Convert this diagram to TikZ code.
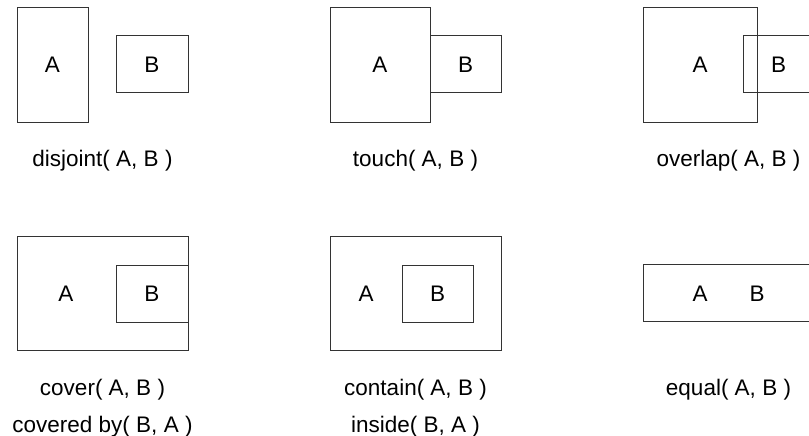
\documentclass[tikz,border=0pt]{standalone}
\usepackage{fontspec}
\setmainfont{Liberation Sans}
\begin{document}
\begin{tikzpicture}[x=1pt,y=-1pt,
  box/.style={draw=black!80,line width=1pt},
  lab/.style={font=\fontsize{22.5}{25}\selectfont,inner sep=0pt,anchor=base},
  captext/.style={font=\fontsize{22.5}{25}\selectfont,inner sep=0pt,anchor=base}]
\useasboundingbox (0,0) rectangle (809,436);
\clip (0,0) rectangle (809,436);
% disjoint
\draw[box] (17,8) rectangle (88,122);
\draw[box] (116,36) rectangle (188,93);
\node[lab] (dA) at (52.5,73) {A};
\node[lab] (dB) at (152,73) {B};
\node[captext] (dc) at (102.5,166.5) {disjoint( A, B )};
% touch
\draw[box] (330,8) rectangle (430,122);
\draw[box] (430,36) rectangle (501,93);
\node[lab] (tA) at (380,73) {A};
\node[lab] (tB) at (465.5,73) {B};
\node[captext] (tc) at (415.5,166.5) {touch( A, B )};
% overlap
\draw[box] (643,8) rectangle (757,122);
\draw[box] (743,36) rectangle (814,93);
\node[lab] (oA) at (700,73) {A};
\node[lab] (oB) at (778.5,73) {B};
\node[captext] (oc) at (728.5,166.5) {overlap( A, B )};
% cover
\draw[box] (17,236) rectangle (188,350);
\draw[box] (116,265) rectangle (188,322);
\node[lab] (cA) at (66,301) {A};
\node[lab] (cB) at (152,301) {B};
\node[captext] (cc1) at (102.5,395) {cover( A, B )};
\node[captext] (cc2) at (102.5,432) {covered by( B, A )};
% contain
\draw[box] (330,236) rectangle (501,350);
\draw[box] (402,265) rectangle (473,322);
\node[lab] (nA) at (366,301) {A};
\node[lab] (nB) at (437.5,301) {B};
\node[captext] (nc1) at (415.5,395) {contain( A, B )};
\node[captext] (nc2) at (415.5,432) {inside( B, A )};
% equal
\draw[box] (643,264) rectangle (814,321);
\node[lab] (eA) at (700,301) {A};
\node[lab] (eB) at (757,301) {B};
\node[captext] (ec) at (728.5,395) {equal( A, B )};
\end{tikzpicture}
\end{document}
